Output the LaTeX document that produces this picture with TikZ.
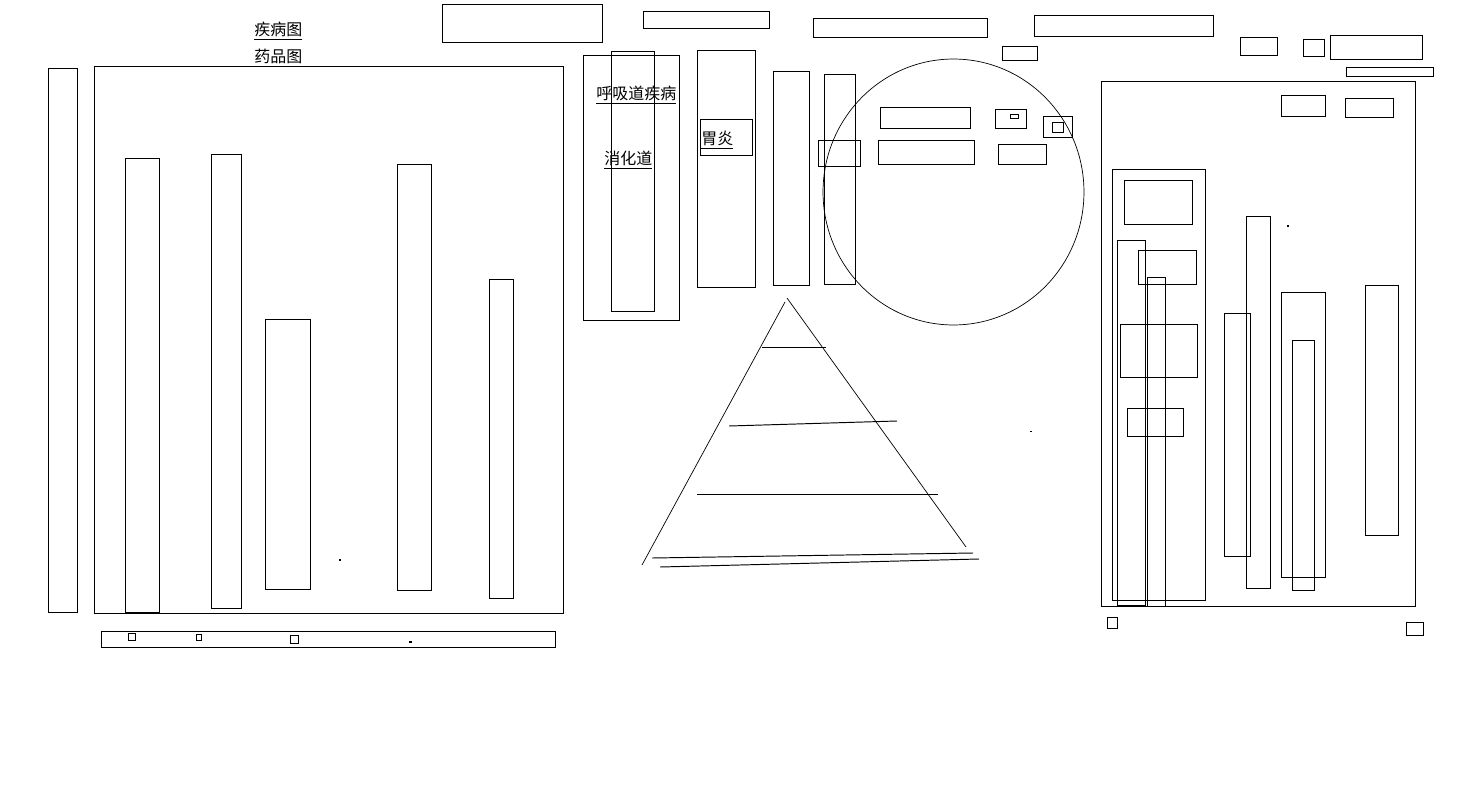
\documentclass[tikz,border=0pt]{standalone}
\usepackage{fontspec}
\usepackage{tikz}
\usetikzlibrary{positioning}
\newfontfamily\cjk{Noto Sans CJK SC}
\tikzset{
    % frame styles - plain black outlines
    wirebox/.style={
        draw=black,
        line width=0.55pt
    },
    thinline/.style={
        draw=black,
        line width=0.4pt
    },
    dotmark/.style={
        fill=black
    },
    % underlined link labels
    linklabel/.style={
        anchor=west,
        inner sep=0pt,
        font=\cjk\fontsize{9.1pt}{11pt}\selectfont
    }
}

\begin{document}
\begin{tikzpicture}[x=0.02cm, y=-0.02cm]
            \useasboundingbox (0,0) rectangle (1457,791);

            % Left chart labels
            \node[linklabel] (disease) at (254,31) {\underline{疾病图}};
            \node[linklabel] (drug) at (254,58) {\underline{药品图}};

            % Left chart frame and bars
            \draw[wirebox] (48,68) rectangle (77,612);
            \draw[wirebox] (94,66) rectangle (563,613);
            \draw[wirebox] (125,158) rectangle (159,612);
            \draw[wirebox] (211,154) rectangle (241,608);
            \draw[wirebox] (265,319) rectangle (310,589);
            \draw[wirebox] (397,164) rectangle (431,590);
            \draw[wirebox] (489,279) rectangle (513,598);
            \fill[dotmark] (339,559) rectangle (341,561);

            % Bottom strip
            \draw[wirebox] (101,631) rectangle (555,647);
            \draw[wirebox] (128,633) rectangle (135,640);
            \draw[wirebox] (196,634) rectangle (201,640);
            \draw[wirebox] (290,635) rectangle (298,643);
            \fill[dotmark] (409,641) rectangle (412,643);

            % Top row
            \draw[wirebox] (442,4) rectangle (602,42);
            \draw[wirebox] (643,11) rectangle (769,28);
            \draw[wirebox] (813,18) rectangle (987,37);
            \draw[wirebox] (1002,46) rectangle (1037,60);
            \draw[wirebox] (1034,15) rectangle (1213,36);
            \draw[wirebox] (1240,37) rectangle (1277,55);
            \draw[wirebox] (1303,39) rectangle (1324,56);
            \draw[wirebox] (1330,35) rectangle (1422,59);
            \draw[wirebox] (1346,67) rectangle (1433,76);

            % Middle columns
            \draw[wirebox] (583,55) rectangle (679,320);
            \draw[wirebox] (611,51) rectangle (654,311);
            \node[linklabel] (resp) at (596,95) {\underline{呼吸道疾病}};
            \node[linklabel] (digest) at (604,160) {\underline{消化道}};
            \draw[wirebox] (697,50) rectangle (755,287);
            \draw[wirebox] (700,119) rectangle (752,155);
            \node[linklabel] (gastritis) at (701,140) {\underline{胃炎}};
            \draw[wirebox] (773,71) rectangle (809,285);
            \draw[wirebox] (824,74) rectangle (855,284);
            \draw[wirebox] (818,140) rectangle (860,166);

            % Circle group
            \draw[thinline] (953.5,192) ellipse [x radius=2.61cm, y radius=2.66cm];
            \draw[wirebox] (880,107) rectangle (970,128);
            \draw[wirebox] (878,140) rectangle (974,164);
            \draw[wirebox] (995,109) rectangle (1026,128);
            \draw[wirebox] (1010,114) rectangle (1018,118);
            \draw[wirebox] (1043,116) rectangle (1072,137);
            \draw[wirebox] (1052,122) rectangle (1063,132);
            \draw[wirebox] (998,144) rectangle (1046,164);

            % Pyramid
            \draw[thinline] (785,302) -- (642,565);
            \draw[thinline] (787,298) -- (966,547);
            \draw[wirebox] (762,347) -- (826,347);
            \draw[wirebox] (729,426) -- (897,421);
            \draw[wirebox] (697,494) -- (938,494);
            \draw[wirebox] (652,558) -- (973,553);
            \draw[wirebox] (660,567) -- (979,559);
            \fill[dotmark] (1030,430.5) rectangle (1032,431.5);

            % Right panel
            \draw[wirebox] (1101,81) rectangle (1415,606);
            \draw[wirebox] (1281,95) rectangle (1325,116);
            \draw[wirebox] (1345,98) rectangle (1393,117);
            \draw[wirebox] (1112,169) rectangle (1205,600);
            \draw[wirebox] (1124,180) rectangle (1192,224);
            \draw[wirebox] (1117,240) rectangle (1145,605);
            \draw[wirebox] (1138,250) rectangle (1196,284);
            \draw[wirebox] (1147,277) rectangle (1165,606);
            \draw[wirebox] (1120,324) rectangle (1197,377);
            \draw[wirebox] (1127,408) rectangle (1183,436);
            \draw[wirebox] (1246,216) rectangle (1270,588);
            \draw[wirebox] (1224,313) rectangle (1250,556);
            \draw[wirebox] (1281,292) rectangle (1325,577);
            \draw[wirebox] (1292,340) rectangle (1314,590);
            \draw[wirebox] (1365,285) rectangle (1398,535);
            \fill[dotmark] (1287,225) rectangle (1289,227);
            \draw[wirebox] (1107,617) rectangle (1117,628);
            \draw[wirebox] (1406,622) rectangle (1423,635);
        \end{tikzpicture}
\end{document}
